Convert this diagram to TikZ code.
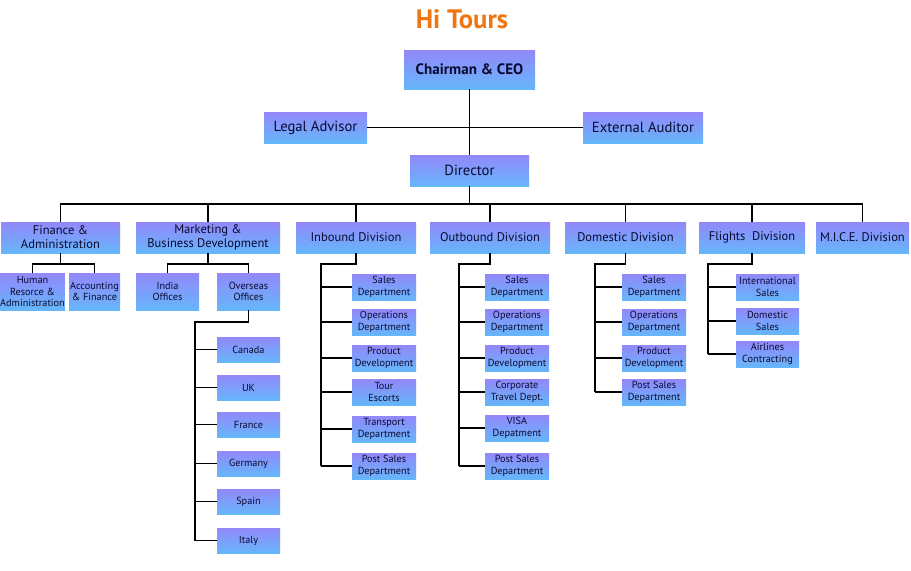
\documentclass[tikz,border=0pt]{standalone}
\usepackage{fontspec}
\setmainfont{PT Sans}
\definecolor{boxtop}{RGB}{146,136,250}
\definecolor{boxbot}{RGB}{102,182,250}
\definecolor{navy}{RGB}{10,10,50}
\definecolor{tourorange}{RGB}{240,118,18}
\begin{document}
\begin{tikzpicture}[x=0.75pt,y=-0.75pt,
    unit/.style 2 args={top color=boxtop,bottom color=boxbot,text=navy,
      align=center,inner sep=0pt,minimum width=#1*0.75pt,minimum height=#2*0.75pt},
    big/.style={font=\fontsize{11}{13}\selectfont},
    mid/.style={font=\fontsize{9.4}{10.6}\selectfont},
    small/.style={font=\fontsize{7.7}{8.5}\selectfont},
    link/.style={draw=black,line width=0.8pt}]
  \useasboundingbox (0,0) rectangle (911,571);
  % title
  \node[text=tourorange,font=\fontsize{20}{22}\selectfont\bfseries] (title) at (462,19) {Hi Tours};
  % top of the chart
  \node[unit={131}{39},font=\fontsize{11.3}{13}\selectfont\bfseries] (ceo) at (469.5,69.5) {Chairman \& CEO};
  \node[unit={103}{31},big] (legal) at (315.5,127.5) {Legal Advisor};
  \node[unit={120}{31},big] (audit) at (643,127.5) {External Auditor};
  \node[unit={119}{31},big] (dir) at (469.5,170.5) {Director};
  \draw[link] (ceo.south) -- (dir.north);
  \draw[link] (legal.east) -- (audit.west);
  % divisions
  \node[unit={119}{31},mid] (fin) at (60.5,237.5) {Finance \&\\Administration};
  \node[unit={144}{31},mid] (mkt) at (208,237.5) {Marketing \&\\Business Development};
  \node[unit={120}{31},mid] (inb) at (356,237.5) {Inbound Division};
  \node[unit={120}{31},mid] (outb) at (490,237.5) {Outbound Division};
  \node[unit={121}{31},mid] (dom) at (625.5,237.5) {Domestic Division};
  \node[unit={106}{31},mid] (fli) at (752,237.5) {Flights\ \ Division};
  \node[unit={93}{31},mid] (mice) at (862.5,237.5) {M.I.C.E. Division};
  \coordinate (bus) at (469.5,204);
  \draw[link] (dir.south) -- (bus);
  \draw[link] (fin.north) |- (bus) -| (mice.north);
  \foreach \d in {mkt,inb,outb,dom,fli}
    \draw[link] (\d.north) -- (\d.north |- bus);
  % finance and marketing
  \node[unit={63}{37},small] (hr) at (32.5,291.5) {Human\\Resorce \&\\Administration};
  \node[unit={51}{37},small] (acc) at (94.5,291.5) {Accounting\\\& Finance};
  \node[unit={63}{37},small] (india) at (167.5,291.5) {India\\Offices};
  \node[unit={63}{37},small] (ovs) at (248.5,291.5) {Overseas\\Offices};
  \coordinate (finB) at (60.5,264);
  \coordinate (mktB) at (208,264);
  \draw[link] (fin.south) -- (finB);
  \draw[link] (hr.north) |- (finB) -| (acc.north);
  \draw[link] (mkt.south) -- (mktB);
  \draw[link] (india.north) |- (mktB) -| (ovs.north);
  % overseas offices
  \foreach \n/\y/\t in {c1/349.5/Canada,c2/387.5/UK,c3/424.5/France,
      c4/463.5/Germany,c5/501.5/Spain,c6/540.5/Italy}
    \node[unit={63}{25},small] (\n) at (248.5,\y) {\t};
  \coordinate (ovsT) at (195,322);
  \draw[link] (ovs.south) |- (ovsT) -- (ovsT |- c6.west);
  \foreach \n in {c1,c2,c3,c4,c5,c6}
    \draw[link] (ovsT |- \n.west) -- (\n.west);
  % inbound
  \foreach \n/\y/\t in {in1/287/{Sales\\Department},in2/322/{Operations\\Department},
      in3/358/{Product\\Development},in4/392/{Tour\\Escorts},
      in5/429/{Transport\\Department},in6/466/{Post Sales\\Department}}
    \node[unit={64}{26},small] (\n) at (384,\y) {\t};
  \coordinate (inbT) at (321,264);
  \draw[link] (inb.south) |- (inbT) -- (inbT |- in6.west);
  \foreach \n in {in1,in2,in3,in4,in5,in6}
    \draw[link] (inbT |- \n.west) -- (\n.west);
  % outbound
  \foreach \n/\y/\t in {out1/287/{Sales\\Department},out2/322/{Operations\\Department},
      out3/358/{Product\\Development},out4/392/{Corporate\\Travel Dept.},
      out5/428/{VISA\\Depatment},out6/466/{Post Sales\\Department}}
    \node[unit={64}{26},small] (\n) at (517,\y) {\t};
  \coordinate (outT) at (459,264);
  \draw[link] (outb.south) |- (outT) -- (outT |- out6.west);
  \foreach \n in {out1,out2,out3,out4,out5,out6}
    \draw[link] (outT |- \n.west) -- (\n.west);
  % domestic
  \foreach \n/\y/\t in {dom1/287/{Sales\\Department},dom2/322/{Operations\\Department},
      dom3/358/{Product\\Development},dom4/392/{Post Sales\\Department}}
    \node[unit={64}{26},small] (\n) at (654,\y) {\t};
  \coordinate (domT) at (595,264);
  \draw[link] (dom.south) |- (domT) -- (domT |- dom4.west);
  \foreach \n in {dom1,dom2,dom3,dom4}
    \draw[link] (domT |- \n.west) -- (\n.west);
  % flights
  \foreach \n/\y/\t in {fl1/287/{International\\Sales},fl2/321/{Domestic\\Sales},
      fl3/354/{Airlines\\Contracting}}
    \node[unit={63}{26},small] (\n) at (767.5,\y) {\t};
  \coordinate (fliT) at (708,264);
  \draw[link] (fli.south) |- (fliT) -- (fliT |- fl3.west);
  \foreach \n in {fl1,fl2,fl3}
    \draw[link] (fliT |- \n.west) -- (\n.west);
\end{tikzpicture}
\end{document}
